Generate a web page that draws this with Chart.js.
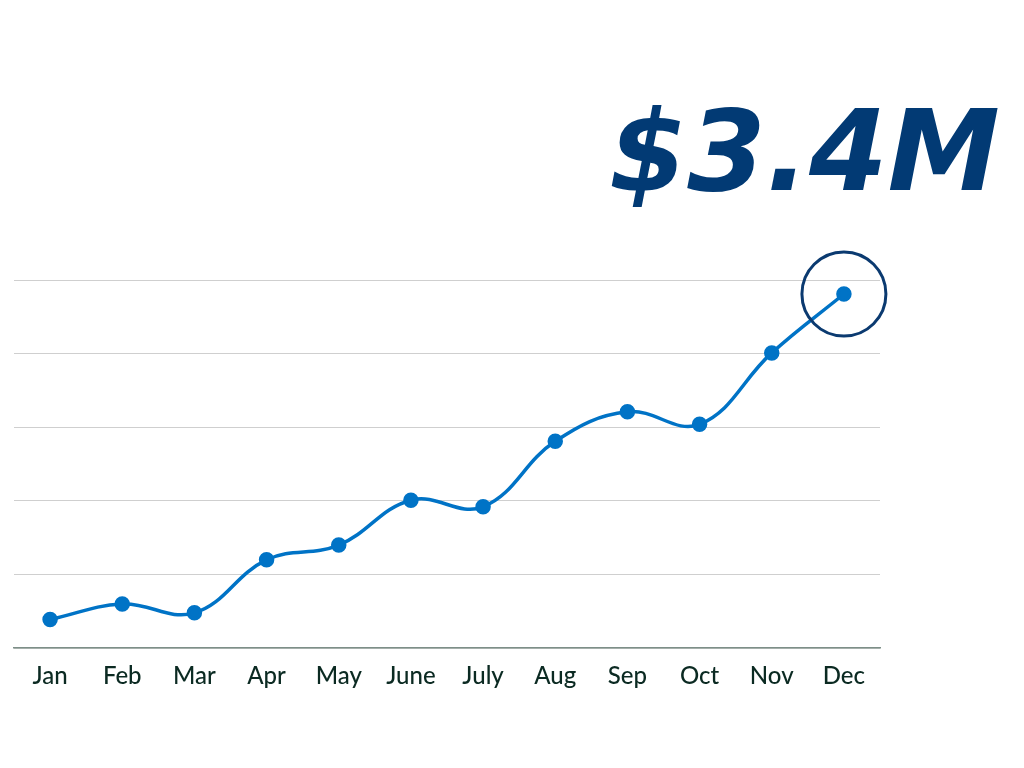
<!DOCTYPE html>
<html>
<head>
<meta charset="utf-8">
<script src="https://cdn.jsdelivr.net/npm/chart.js@4/dist/chart.umd.min.js"></script>
<style>
  html, body { margin: 0; padding: 0; background: #fff; }
  canvas { display: block; }
</style>
</head>
<body>
<canvas id="myRevenueChart" width="1024" height="768"></canvas>
<script>
var months = ["Jan", "Feb", "Mar", "Apr", "May", "June", "July", "Aug", "Sep", "Oct", "Nov", "Dec"];
var revenue = [0.39, 0.60, 0.48, 1.20, 1.40, 2.01, 1.92, 2.81, 3.21, 3.04, 4.01, 4.81];
var headline = "$3.4M";

// big number + ring around last point
var highlightPlugin = {
    id: "highlight",
    afterDraw: function (chart) {
        var ctx = chart.ctx;
        var meta = chart.getDatasetMeta(0);
        var last = meta.data[meta.data.length - 1];
        ctx.save();
        ctx.beginPath();
        ctx.arc(last.x, last.y, 42, 0, Math.PI * 2);
        ctx.lineWidth = 3;
        ctx.strokeStyle = "#0b3a70";
        ctx.stroke();

        ctx.font = "italic bold 113px 'DejaVu Sans'";
        ctx.fillStyle = "#023a74";
        ctx.textAlign = "right";
        ctx.textBaseline = "alphabetic";
        ctx.fillText(headline, 1000, 190);
        ctx.restore();
    }
};

new Chart("myRevenueChart", {
    type: "line",
    data: {
        labels: months,
        datasets: [{
            data: revenue,
            borderColor: "#0073c6",
            backgroundColor: "#0073c6",
            borderWidth: 3.5,
            pointRadius: 6,
            pointHoverRadius: 6,
            tension: 0.4,
            fill: false
        }]
    },
    options: {
        responsive: false,
        animation: false,
        layout: {
            padding: { left: 14, right: 144, top: 280, bottom: 71 }
        },
        plugins: {
            legend: { display: false },
            tooltip: { enabled: false }
        },
        scales: {
            x: {
                offset: true,
                grid: { display: false },
                border: { display: true, color: "#7d8f88", width: 1.5 },
                ticks: {
                    color: "#0b2a22",
                    font: { family: "Lato", size: 24, weight: "500" },
                    padding: 6
                }
            },
            y: {
                min: 0,
                max: 5,
                ticks: { display: false, stepSize: 1 },
                grid: { color: "#cfcfcf", lineWidth: 1, drawTicks: false },
                border: { display: false }
            }
        }
    },
    plugins: [highlightPlugin]
});
</script>
</body>
</html>
